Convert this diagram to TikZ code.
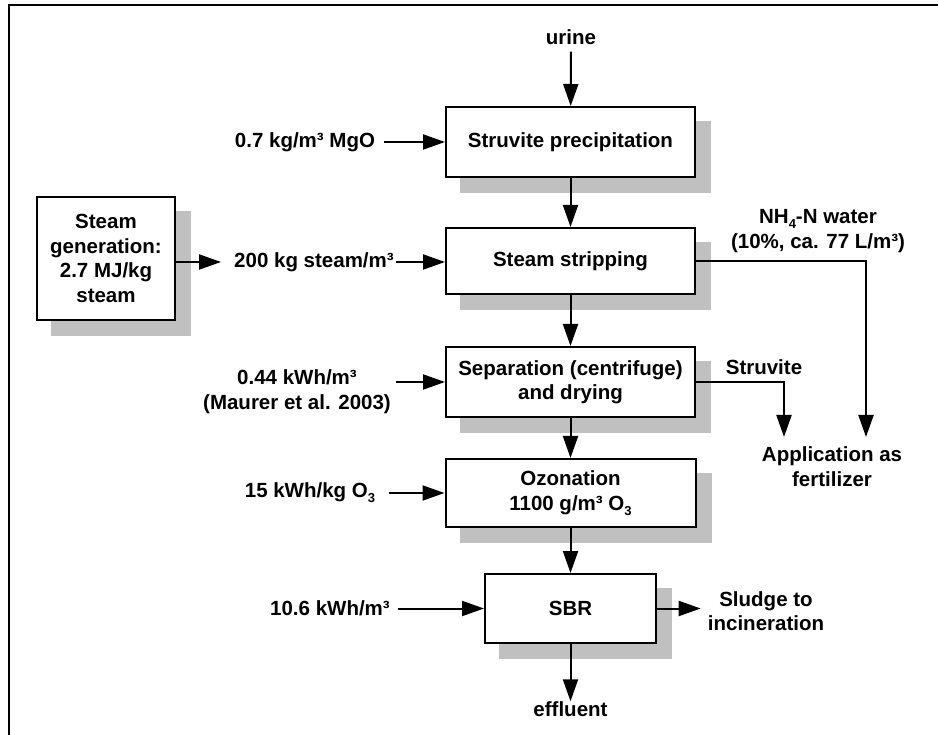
\documentclass[tikz,border=0pt]{standalone}
\usepackage{fontspec}
\setmainfont{Liberation Sans}
\usetikzlibrary{arrows.meta,shadows}
\definecolor{shade}{HTML}{C0C0C0}
\newcommand\subidx[1]{\raisebox{-0.45ex}{\fontsize{13}{13}\selectfont #1}}
\tikzset{
  proc/.style={draw=black, line width=2pt, fill=white, inner sep=0pt, align=center,
    copy shadow={shadow xshift=15pt, shadow yshift=-15pt, fill=shade, draw=shade}},
  lbl/.style={inner sep=0pt, align=center},
  flow/.style={line width=2pt, -{Triangle[length=22pt,width=15pt]}},
}
\begin{document}
\begin{tikzpicture}[x=1pt, y=-1pt, font=\fontsize{20.5}{24.5}\selectfont\bfseries]
\useasboundingbox (0,0) rectangle (938,735);

% outer frame (top and left edges)
\draw[line width=2.2pt] (9,735) -- (9,5) -- (938,5);

% process boxes
\node[proc, minimum width=249pt, minimum height=70pt] (sp)  at (570.5,142)   {Struvite precipitation};
\node[proc, minimum width=249pt, minimum height=66pt] (ss)  at (570.5,261)   {Steam stripping};
\node[proc, minimum width=249pt, minimum height=70pt] (sep) at (570.5,382)   {Separation (centrifuge)\\and drying};
\node[proc, minimum width=250pt, minimum height=68pt] (oz)  at (570.5,493)   {Ozonation\\1100 g/m³ O\subidx{3}};
\node[proc, minimum width=171pt, minimum height=69pt] (sbr) at (570.5,608.5) {SBR};
\node[proc, minimum width=138pt, minimum height=123pt] (sg) at (106,258.5)   {Steam\\generation:\\2.7 MJ/kg\\steam};

% stream labels
\node[lbl] (urine)  at (571,37)    {urine};
\node[lbl] (mgo)    at (305,142)   {0.7 kg/m³ MgO};
\node[lbl] (steam)  at (314,262)   {200 kg steam/m³};
\node[lbl] (elec1)  at (297,391.5) {0.44 kWh/m³\\(Maurer et al. 2003)};
\node[lbl] (o3in)   at (310,493)   {15 kWh/kg O\subidx{3}};
\node[lbl] (elec2)  at (330,608)   {10.6 kWh/m³};
\node[lbl] (nh4)    at (818,231)   {NH\subidx{4}-N water\\(10\%, ca. 77 L/m³)};
\node[lbl] (struv)  at (764,367)   {Struvite};
\node[lbl] (fert)   at (832,466.5) {Application as\\fertilizer};
\node[lbl] (sludge) at (766,611)   {Sludge to\\incineration};
\node[lbl] (eff)    at (570.5,709) {effluent};

\coordinate (nhdrop) at (866,437);
\coordinate (stdrop) at (784,437);

% main line
\draw[flow, shorten <=7pt] (urine) -- (sp);
\draw[flow] (sp) -- (ss);
\draw[flow] (ss) -- (sep);
\draw[flow] (sep) -- (oz);
\draw[flow] (oz) -- (sbr);
\draw[flow] (sbr) -- (eff);

% inputs
\draw[flow, shorten <=9pt] (mgo.east) -- (mgo.east -| sp.west);
\draw[flow, shorten >=13pt] (sg.east |- steam.west) -- (steam.west);
\draw[flow, shorten <=2pt] (steam.east) -- (steam.east -| ss.west);
\draw[flow, shorten <=5pt] (elec1.east |- sep.west) -- (sep.west);
\draw[flow, shorten <=14pt] (o3in.east |- oz.west) -- (oz.west);
\draw[flow, shorten <=8pt] (elec2.east |- sbr.west) -- (sbr.west);

% outputs
\draw[flow] (ss.east) -| (nhdrop);
\draw[flow] (sep.east) -| (stdrop);
\draw[flow, shorten >=7pt] (sbr.east) -- (sludge.west |- sbr.east);
\end{tikzpicture}
\end{document}
